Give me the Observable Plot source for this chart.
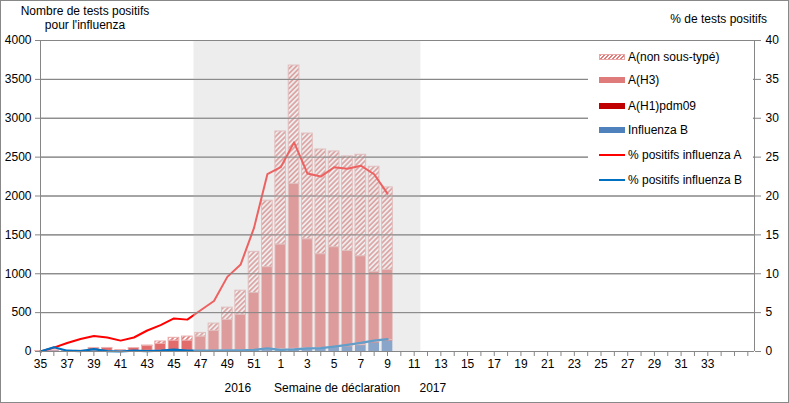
<!DOCTYPE html>
<html><head><meta charset="utf-8">
<script src="https://cdn.jsdelivr.net/npm/d3@7"></script>
<script src="https://cdn.jsdelivr.net/npm/@observablehq/plot@0.6"></script>
<style>
body{margin:0;background:#fff;font-family:"Liberation Sans",Arial,sans-serif;font-size:12px;color:#000;}
#wrap{position:relative;width:789px;height:403px;overflow:hidden;}
#wrap svg{position:absolute;left:0;top:0;}
.t{position:absolute;white-space:nowrap;line-height:14px;}
#frame{position:absolute;left:0;top:0;width:789px;height:403px;box-sizing:border-box;border:1px solid #888;pointer-events:none;}
#legend{position:absolute;left:588px;top:42px;width:165px;height:150px;background:#fff;}
.li{position:absolute;left:11px;height:14px;}
.sw{position:absolute;left:0;width:26px;}
.lt{position:absolute;left:29px;top:0;white-space:nowrap;line-height:14px;}
</style></head>
<body>
<div id="wrap"></div>
<script>
// axis categories (report weeks, Sept 2016 -> Aug 2017)
const axisWeeks = [35,36,37,38,39,40,41,42,43,44,45,46,47,48,49,50,51,52,
  1,2,3,4,5,6,7,8,9,10,11,12,13,14,15,16,17,18,19,20,21,22,23,24,25,26,27,28,29,30,31,32,33,34,35,36];
const tickLabels = ["35","37","39","41","43","45","47","49","51","1","3","5","7","9","11","13","15","17","19","21","23","25","27","29","31","33"];
const yTicks = [0,500,1000,1500,2000,2500,3000,3500,4000];

// data weeks
const weeks = [35,36,37,38,39,40,41,42,43,44,45,46,47,48,49,50,51,52,1,2,3,4,5,6,7,8,9];
const fluB = [5,10,5,5,10,8,5,8,10,10,15,10,10,10,15,15,15,20,25,30,35,40,50,60,75,110,135];
const h1   = [0,0,0,0,0,0,0,0,0,0,0,0,0,0,0,0,5,5,5,5,5,5,8,8,8,10,10];
const h3   = [3,5,5,7,37,39,15,37,60,90,125,130,182,255,391,459,732,1060,1346,2121,1404,1207,1284,1227,1143,906,906];
const nst  = [0,0,0,0,0,0,0,0,7,29,36,52,47,94,158,308,530,855,1454,1522,1359,1346,1231,1214,1304,1350,1060];
const pctA = [0,0.5,1.1,1.6,2.0,1.8,1.4,1.8,2.7,3.4,4.25,4.1,5.3,6.5,9.6,11.2,15.9,22.8,23.7,26.9,22.9,22.5,23.7,23.5,23.9,22.8,20.3];
const pctB = [0,0.55,0.1,0.05,0.3,0.05,0,0.1,0.05,0.1,0.25,0.1,0.1,0.1,0.15,0.15,0.2,0.4,0.2,0.26,0.4,0.43,0.64,0.86,1.1,1.4,1.6];
const shadeWeeks = [{from:47, to:11}];

const seriesNames = ["Influenza B","A(H1)pdm09","A(H3)","A(non sous-typé)"];
const seriesArrays = [fluB,h1,h3,nst];

const idx = w => axisWeeks.indexOf(w);
const rows = [];
weeks.forEach((w,k)=>{
  let y0 = 0;
  seriesArrays.forEach((arr,s)=>{
    rows.push({i: idx(w), series: seriesNames[s], y1: y0, y2: y0 + arr[k]});
    y0 += arr[k];
  });
});
const lineRows = weeks.map((w,k)=>({i: idx(w), a: pctA[k], b: pctB[k]}));
const shade = shadeWeeks.map(d=>({x1: idx(d.from)-0.5, x2: idx(d.to)+0.5}));
const labelAt = new Map(tickLabels.map(l=>[idx(+l), l]));

const bw = 0.4;
const barMark = (name, opts) => Plot.rect(rows.filter(d=>d.series===name),
  {x1: d=>d.i-bw, x2: d=>d.i+bw, y1:"y1", y2:"y2", ...opts});

const chart = Plot.plot({
  width: 789, height: 403,
  marginLeft: 40, marginRight: 35, marginTop: 40, marginBottom: 52,
  style: {fontFamily: "Liberation Sans, Arial, sans-serif", fontSize: "12px", color: "#000", background: "transparent", overflow: "visible"},
  x: {type: "linear", domain: [0, 53.5], label: null},
  y: {domain: [0, 4000], label: null},
  marks: [
    Plot.gridY(yTicks, {stroke: "#868686", strokeOpacity: 1}),
    barMark("Influenza B", {fill: "#4a7ebf"}),
    barMark("A(H1)pdm09", {fill: "#c00000"}),
    barMark("A(H3)", {fill: "#e26b6b", stroke: "#eeb4b4", strokeWidth: 0.8}),
    barMark("A(non sous-typé)", {fill: "url(#hatch)", stroke: "#eaa9a9", strokeWidth: 1}),
    Plot.line(lineRows, {x: "i", y: d=>d.a*100, stroke: "#ff0000", strokeWidth: 2}),
    Plot.line(lineRows, {x: "i", y: d=>d.b*100, stroke: "#0070c0", strokeWidth: 2.25}),
    Plot.rect(shade, {x1: "x1", x2: "x2", y1: 0, y2: 4000, fill: "#d6d6d6", fillOpacity: 0.45}),
    Plot.ruleY([0], {stroke: "#868686"}),
    Plot.ruleX([0], {stroke: "#868686"}),
    Plot.ruleX([53.5], {stroke: "#868686"}),
    Plot.axisY({anchor: "left", ticks: yTicks, tickFormat: d => String(d), tickSize: 5, tickPadding: 4, stroke: "#868686", fill: "#000", label: null}),
    Plot.axisY({anchor: "right", ticks: yTicks, tickFormat: d => String(d/100), tickSize: 6, tickPadding: 5, stroke: "#868686", fill: "#000", label: null}),
    Plot.tickY(yTicks, {x1: 53.3, x2: 53.5, stroke: "#868686"}),
    Plot.axisX({ticks: d3.range(0, 54), tickFormat: i => labelAt.get(i) || "", tickSize: 5, tickPadding: 3, stroke: "#868686", fill: "#000", label: null})
  ]
});

d3.select(chart).insert("defs", ":first-child").html(
  '<pattern id="hatch" patternUnits="userSpaceOnUse" width="3.5" height="3.5" patternTransform="rotate(45)">' +
  '<rect width="3.5" height="3.5" fill="#ffffff"/><line x1="0.9" y1="0" x2="0.9" y2="3.5" stroke="#e27a7a" stroke-width="1.7"/></pattern>');

const wrap = document.getElementById("wrap");
wrap.appendChild(chart);

function addText(txt, css){ const d=document.createElement("div"); d.className="t"; d.innerHTML=txt; Object.assign(d.style, css); wrap.appendChild(d); return d; }
addText("Nombre de tests positifs<br>pour l'influenza", {left:"0px", width:"170px", textAlign:"center", top:"4px"});
addText("% de tests positifs", {right:"22px", top:"12px"});
const bottomLabels = [["2016",238],["Semaine de déclaration",337],["2017",433]];
bottomLabels.forEach(([t,cx])=>{ const d=addText(t,{top:"381px", left:"0px"}); d.style.left=(cx - d.offsetWidth/2)+"px"; });

// legend
const legendItems = [
  {name:"A(non sous-typé)", type:"hatch"},
  {name:"A(H3)", type:"bar", color:"#e07b7b"},
  {name:"A(H1)pdm09", type:"bar", color:"#c00000"},
  {name:"Influenza B", type:"bar", color:"#4f81bd"},
  {name:"% positifs influenza A", type:"line", color:"#ff0000"},
  {name:"% positifs influenza B", type:"line", color:"#0070c0"}
];
const legendY = [8,31,57,81,106,131];
const lg = document.createElement("div"); lg.id="legend"; wrap.appendChild(lg);
legendItems.forEach((it,k)=>{
  const li=document.createElement("div"); li.className="li"; li.style.top=legendY[k]+"px";
  const sw=document.createElement("div"); sw.className="sw";
  if(it.type==="line"){ sw.style.top="6px"; sw.style.height="2px"; sw.style.background=it.color; }
  else if(it.type==="hatch"){ sw.style.top="4px"; sw.style.height="6px"; sw.style.boxSizing="border-box"; sw.style.border="1px solid #e8a8a8";
    sw.style.background="repeating-linear-gradient(135deg, #e27a7a 0 1.3px, #fff 1.3px 2.8px)"; }
  else { sw.style.top="4px"; sw.style.height="6px"; sw.style.background=it.color; }
  const t=document.createElement("div"); t.className="lt"; t.textContent=it.name;
  li.appendChild(sw); li.appendChild(t); lg.appendChild(li);
});
const fr=document.createElement("div"); fr.id="frame"; wrap.appendChild(fr);
</script>
</body></html>
